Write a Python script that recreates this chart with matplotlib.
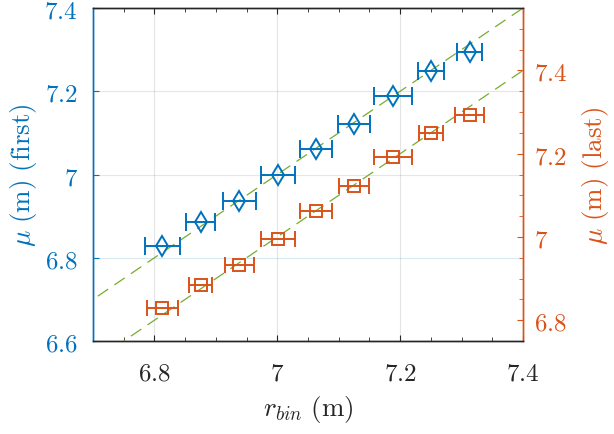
import matplotlib
matplotlib.use("Agg")
import matplotlib.pyplot as plt
from matplotlib.ticker import MultipleLocator, FixedLocator, FuncFormatter

plt.rcParams["mathtext.fontset"] = "cm"

# data
r_bin = [6.813, 6.875, 6.938, 7.001, 7.063, 7.125, 7.188, 7.250, 7.313]
mu_first = [6.828, 6.885, 6.936, 7.000, 7.061, 7.121, 7.189, 7.249, 7.295]
err_first = [0.0285, 0.023, 0.027, 0.028, 0.026, 0.0266, 0.031, 0.021, 0.021]
mu_last = [6.829, 6.885, 6.933, 6.996, 7.062, 7.122, 7.191, 7.249, 7.294]
err_last = [0.025, 0.018, 0.0236, 0.028, 0.026, 0.0244, 0.031, 0.0195, 0.0233]
ref_line = [6.6, 7.6]

blue = "#0072BD"
orange = "#D95319"
green = "#77AC30"
dark = "#262626"

fig = plt.figure(figsize=(6.14, 4.35), dpi=100)
ax = fig.add_axes([0.1515, 0.2138, 0.7003, 0.7655])
ax2 = ax.twinx()

# left axis: first
ax.plot(ref_line, ref_line, "--", color=green, lw=0.9, dashes=(10, 6), zorder=3)
ax.errorbar(r_bin, mu_first, xerr=err_first, fmt="d", color=blue, mfc="none",
            ms=10.5, mew=1.4, elinewidth=1.4, capsize=6.5, capthick=1.4, zorder=4)

# right axis: last
ax2.plot(ref_line, ref_line, "--", color=green, lw=0.9, dashes=(10, 6), zorder=3)
ax2.errorbar(r_bin, mu_last, xerr=err_last, fmt="s", color=orange, mfc="none",
             ms=8.5, mew=1.4, elinewidth=1.4, capsize=6, capthick=1.4, zorder=4)

ax.set_xlim(6.7, 7.4)
ax.set_ylim(6.6, 7.4)
ax2.set_ylim(6.75, 7.55)

fmt = FuncFormatter(lambda v, p: r"$%g$" % round(v, 3))

ax.xaxis.set_major_locator(FixedLocator([6.8, 7.0, 7.2, 7.4]))
ax.xaxis.set_minor_locator(MultipleLocator(0.05))
ax.xaxis.set_major_formatter(fmt)
ax.yaxis.set_major_locator(FixedLocator([6.6, 6.8, 7.0, 7.2, 7.4]))
ax.yaxis.set_major_formatter(fmt)
ax2.yaxis.set_major_locator(FixedLocator([6.8, 7.0, 7.2, 7.4]))
ax2.yaxis.set_minor_locator(MultipleLocator(0.05))
ax2.yaxis.set_major_formatter(fmt)

ax.tick_params(axis="x", which="both", direction="in", top=True, colors=dark,
               labelsize=18, pad=14, length=4)
ax.tick_params(axis="x", which="minor", length=3)
ax.tick_params(axis="y", which="both", direction="in", colors=blue,
               labelsize=18, pad=11, length=4)
ax2.tick_params(axis="y", which="both", direction="in", colors=orange,
                labelsize=18, pad=8, length=4)
ax2.tick_params(axis="y", which="minor", length=3)

ax.grid(True, axis="x", color=dark, alpha=0.12, lw=0.8)
ax.grid(True, axis="y", color=blue, alpha=0.15, lw=0.8)

for a in (ax, ax2):
    a.spines["top"].set_color(dark)
    a.spines["bottom"].set_color(dark)
    a.spines["left"].set_color(blue)
    a.spines["right"].set_color(orange)
    for s in a.spines.values():
        s.set_linewidth(1.0)

ax.set_xlabel(r"$r_{bin}\ (\mathrm{m})$", fontsize=19.5, color=dark, labelpad=6)
ax.set_ylabel(r"$\mu\ (\mathrm{m})\ (\mathrm{first})$", fontsize=19.5, color=blue, labelpad=4)
ax2.set_ylabel(r"$\mu\ (\mathrm{m})\ (\mathrm{last})$", fontsize=19.5, color=orange, labelpad=9)

fig.savefig("out.png", dpi=100)
